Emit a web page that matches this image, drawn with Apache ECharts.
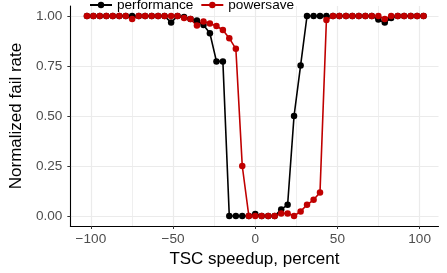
<!DOCTYPE html>
<html>
<head>
<meta charset="utf-8">
<script src="https://cdn.jsdelivr.net/npm/echarts@6/dist/echarts.min.js"></script>
<style>
body {
  margin: 0;
}
#chart {
  width: 447px;
  height: 273px;
}
</style>
</head>
<body>
<div id="chart"></div>
<script>
// TSC speedup, percent
const speedup = [-102.4, -98.5, -94.6, -90.6, -86.7, -82.7, -78.8, -74.9, -70.9, -67, -63, -59.1, -55.2,
  -51.2, -47.3, -43.3, -39.4, -35.5, -31.5, -27.6, -23.6, -19.7, -15.8, -11.8, -7.9, -3.9, 0,
  3.9, 7.9, 11.8, 15.8, 19.7, 23.6, 27.6, 31.5, 35.5, 39.4, 43.3, 47.3, 51.2, 55.2, 59.1, 63,
  67, 70.9, 74.9, 78.8, 82.7, 86.7, 90.6, 94.6, 98.5, 102.4]

const performance = [1, 1, 1, 1, 1, 1, 1, 1, 1, 1, 1, 1, 1,
  0.967, 1, 0.995, 0.985, 0.977, 0.955, 0.914, 0.773, 0.773, 0, 0, 0, 0, 0.01,
  0, 0, 0, 0.033, 0.056, 0.5, 0.753, 1, 1, 1, 1, 1, 1, 1, 1, 1,
  1, 1, 0.982, 0.967, 0.99, 1, 1, 1, 1, 1]

const powersave = [1, 1, 1, 1, 1, 1, 1, 0.985, 1, 1, 1, 1, 1,
  1, 1, 0.99, 0.985, 0.952, 0.972, 0.963, 0.95, 0.93, 0.889, 0.836, 0.25, 0, 0,
  0, 0, 0, 0.013, 0.013, 0, 0.023, 0.056, 0.081, 0.118, 0.98, 1, 1, 1, 1, 1,
  1, 1, 1, 0.985, 1, 1, 1, 1, 1, 1]

const xMajor = [-100, -50, 0, 50, 100]
const xMinor = [-75, -25, 25, 75]
const yTicks = [0, 0.25, 0.5, 0.75, 1]

const chart = echarts.init(document.getElementById('chart'))

const pairs = ys => speedup.map((x, i) => [x, ys[i]])
const minus = v => (v < 0 ? '\u2212' + Math.abs(v) : String(v))

const tickLabel = {
  color: '#4d4d4d',
  fontFamily: 'Liberation Sans, Arial, sans-serif',
  fontSize: 13.6
}

const option = {
  animation: false,
  legend: {
    top: -7,
    left: 84,
    itemWidth: 22,
    itemHeight: 8,
    itemGap: 7,
    textStyle: {
      color: '#000',
      fontFamily: 'Liberation Sans, Arial, sans-serif',
      fontSize: 13.6
    },
    data: ['performance', 'powersave']
  },
  grid: {
    left: 69,
    right: 8.5,
    top: 6,
    bottom: 47
  },
  xAxis: [
    {
      type: 'value',
      min: -112.5,
      max: 111.5,
      name: 'TSC speedup, percent',
      nameLocation: 'middle',
      nameGap: 22,
      nameTextStyle: {
        color: '#000',
        fontFamily: 'Liberation Sans, Arial, sans-serif',
        fontSize: 17
      },
      axisLine: { onZero: false, lineStyle: { color: '#000', width: 1.1 } },
      axisTick: { customValues: xMajor, length: 3, lineStyle: { color: '#333' } },
      axisLabel: Object.assign({ customValues: xMajor, margin: 6, formatter: minus }, tickLabel),
      splitLine: { show: true, lineStyle: { color: '#ebebeb', width: 1.2 } }
    },
    {
      // minor grid lines
      type: 'value',
      min: -112.5,
      max: 111.5,
      position: 'bottom',
      axisLine: { show: false },
      axisTick: { show: false, customValues: xMinor },
      axisLabel: { show: false, customValues: xMinor },
      splitLine: { show: true, lineStyle: { color: '#ebebeb', width: 0.8 } }
    }
  ],
  yAxis: {
    type: 'value',
    min: -0.05,
    max: 1.05,
    name: 'Normalized fail rate',
    nameLocation: 'middle',
    nameGap: 32,
    nameTextStyle: {
      color: '#000',
      fontFamily: 'Liberation Sans, Arial, sans-serif',
      fontSize: 17
    },
    axisLine: { show: true, onZero: false, lineStyle: { color: '#000', width: 1.1 } },
    axisTick: { show: true, customValues: yTicks, length: 3, lineStyle: { color: '#333' } },
    axisLabel: Object.assign({ customValues: yTicks, formatter: v => v.toFixed(2) }, tickLabel),
    splitLine: { show: true, lineStyle: { color: '#ebebeb', width: 1.2 } }
  },
  series: [
    {
      name: 'performance',
      type: 'line',
      data: pairs(performance),
      symbol: 'circle',
      symbolSize: 6.5,
      color: '#000000',
      lineStyle: { width: 1.6 }
    },
    {
      name: 'powersave',
      type: 'line',
      data: pairs(powersave),
      symbol: 'circle',
      symbolSize: 6.5,
      color: '#c00000',
      lineStyle: { width: 1.6 }
    }
  ]
}

chart.setOption(option)
</script>
</body>
</html>
